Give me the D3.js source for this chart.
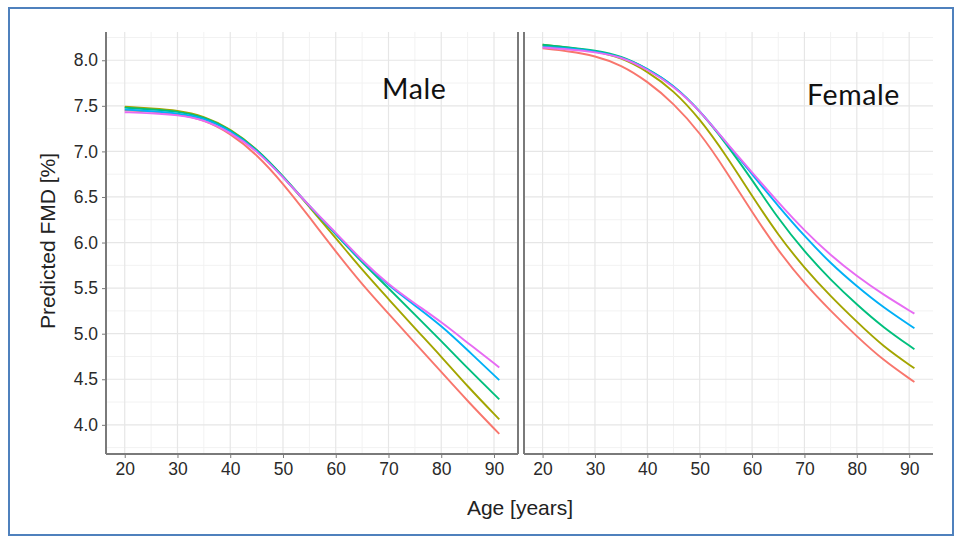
<!DOCTYPE html>
<html>
<head>
<meta charset="utf-8">
<script src="https://cdn.jsdelivr.net/npm/d3@7"></script>
<style>
  body { margin: 0; background: #fff; }
  svg { display: block; }
</style>
</head>
<body>
<svg id="chart"></svg>
<script>
var width = 960;
var height = 545;

// data
var ages = [20, 25, 30, 35, 40, 45, 50, 55, 60, 65, 70, 75, 80, 85, 91];

var male1 = [7.45, 7.44, 7.41, 7.35, 7.20, 6.97, 6.65, 6.28, 5.90, 5.54, 5.22, 4.90, 4.58, 4.26, 3.90];
var male2 = [7.49, 7.47, 7.45, 7.39, 7.25, 7.03, 6.73, 6.39, 6.05, 5.70, 5.38, 5.06, 4.75, 4.42, 4.06];
var male3 = [7.48, 7.46, 7.44, 7.38, 7.24, 7.03, 6.73, 6.40, 6.09, 5.78, 5.50, 5.21, 4.92, 4.62, 4.28];
var male4 = [7.46, 7.44, 7.42, 7.37, 7.23, 7.02, 6.72, 6.40, 6.10, 5.79, 5.53, 5.31, 5.09, 4.82, 4.49];
var male5 = [7.43, 7.42, 7.40, 7.35, 7.21, 7.01, 6.72, 6.40, 6.11, 5.80, 5.54, 5.33, 5.13, 4.90, 4.63];

var female1 = [8.13, 8.10, 8.05, 7.95, 7.77, 7.53, 7.21, 6.79, 6.33, 5.91, 5.55, 5.25, 4.97, 4.71, 4.47];
var female2 = [8.17, 8.14, 8.10, 8.03, 7.88, 7.67, 7.36, 6.96, 6.51, 6.08, 5.72, 5.41, 5.13, 4.86, 4.62];
var female3 = [8.17, 8.14, 8.11, 8.05, 7.91, 7.73, 7.45, 7.09, 6.69, 6.26, 5.90, 5.59, 5.32, 5.07, 4.83];
var female4 = [8.15, 8.13, 8.10, 8.04, 7.91, 7.73, 7.45, 7.10, 6.75, 6.40, 6.07, 5.77, 5.52, 5.29, 5.06];
var female5 = [8.14, 8.12, 8.09, 8.04, 7.90, 7.72, 7.45, 7.10, 6.77, 6.44, 6.13, 5.86, 5.63, 5.43, 5.22];

var lineColors = ["#F8766D", "#A3A500", "#00BF7D", "#00B0F6", "#E76BF3"];
var xTicks = [20, 30, 40, 50, 60, 70, 80, 90];
var xMinor = [25, 35, 45, 55, 65, 75, 85];
var yTicks = [4.0, 4.5, 5.0, 5.5, 6.0, 6.5, 7.0, 7.5, 8.0];
var yMinor = [3.75, 4.25, 4.75, 5.25, 5.75, 6.25, 6.75, 7.25, 7.75, 8.25];

var panels = [
	{ label: "Male", series: [male1, male2, male3, male4, male5], x0: 106, x1: 518, lx: 382, ly: 99, rightLine: true },
	{ label: "Female", series: [female1, female2, female3, female4, female5], x0: 524, x1: 933, lx: 807, ly: 105, rightLine: false }
];

var panelTop = 32, panelBottom = 454;
var axisColor = "#7a7a7a";

var svg = d3.select('#chart')
	.attr("width", width)
	.attr("height", height);

// outer frame
svg.append("rect")
	.attr("x", 9).attr("y", 8)
	.attr("width", 944).attr("height", 527)
	.attr("fill", "none")
	.attr("stroke", "#4f81bd")
	.attr("stroke-width", 2);

var y = d3.scaleLinear()
	.domain([3.68, 8.31])
	.range([panelBottom, panelTop]);

panels.forEach(function(p, pi) {
	var x = d3.scaleLinear()
		.domain([16.45, 94.55])
		.range([p.x0, p.x1]);

	var g = svg.append("g");

	// grid
	g.selectAll("line.ymin").data(yMinor.filter(v => y(v) > panelTop && y(v) < panelBottom)).enter().append("line")
		.attr("x1", p.x0).attr("x2", p.x1)
		.attr("y1", d => y(d)).attr("y2", d => y(d))
		.attr("stroke", "#f2f2f2").attr("stroke-width", 1);
	g.selectAll("line.xmin").data(xMinor).enter().append("line")
		.attr("x1", d => x(d)).attr("x2", d => x(d))
		.attr("y1", panelTop).attr("y2", panelBottom)
		.attr("stroke", "#f2f2f2").attr("stroke-width", 1);
	g.selectAll("line.ymaj").data(yTicks).enter().append("line")
		.attr("x1", p.x0).attr("x2", p.x1)
		.attr("y1", d => y(d)).attr("y2", d => y(d))
		.attr("stroke", "#e6e6e6").attr("stroke-width", 1.2);
	g.selectAll("line.xmaj").data(xTicks).enter().append("line")
		.attr("x1", d => x(d)).attr("x2", d => x(d))
		.attr("y1", panelTop).attr("y2", panelBottom)
		.attr("stroke", "#e6e6e6").attr("stroke-width", 1.2);

	// curves (smoothed, like the loess fits)
	var line = d3.line()
		.x((d, i) => x(ages[i]))
		.y(d => y(d))
		.curve(d3.curveBasis);

	g.selectAll("path.curve").data(p.series).enter().append("path")
		.attr("class", "curve")
		.attr("d", line)
		.attr("fill", "none")
		.attr("stroke", (d, i) => lineColors[i])
		.attr("stroke-width", 1.9);

	// x axis
	var xAxis = g.append("g")
		.attr("transform", "translate(0," + panelBottom + ")")
		.call(d3.axisBottom(x).tickValues(xTicks).tickSize(4).tickSizeOuter(0).tickPadding(5));
	xAxis.select(".domain").remove();
	xAxis.selectAll(".tick line").attr("stroke", axisColor);
	xAxis.selectAll("text")
		.attr("font-family", "Liberation Sans, Arial, sans-serif")
		.attr("font-size", 17.5)
		.attr("fill", "#2a2a2a");

	// y axis (left panel only gets labels)
	if (pi == 0) {
		var yAxis = g.append("g")
			.attr("transform", "translate(" + p.x0 + ",0)")
			.call(d3.axisLeft(y).tickValues(yTicks).tickFormat(d3.format(".1f")).tickSize(4).tickSizeOuter(0).tickPadding(4));
		yAxis.select(".domain").remove();
		yAxis.selectAll(".tick line").attr("stroke", axisColor);
		yAxis.selectAll("text")
			.attr("font-family", "Liberation Sans, Arial, sans-serif")
			.attr("font-size", 17.5)
			.attr("fill", "#2a2a2a");
	}

	// axis lines
	g.append("line")
		.attr("x1", p.x0).attr("x2", p.x0)
		.attr("y1", panelTop).attr("y2", panelBottom)
		.attr("stroke", axisColor).attr("stroke-width", 2);
	g.append("line")
		.attr("x1", p.x0).attr("x2", p.x1)
		.attr("y1", panelBottom).attr("y2", panelBottom)
		.attr("stroke", axisColor).attr("stroke-width", 2);
	if (p.rightLine) {
		g.append("line")
			.attr("x1", p.x1).attr("x2", p.x1)
			.attr("y1", panelTop).attr("y2", panelBottom)
			.attr("stroke", axisColor).attr("stroke-width", 2);
	}

	// panel label
	g.append("text")
		.attr("x", p.lx).attr("y", p.ly)
		.text(p.label)
		.attr("font-family", "Lato, Open Sans, sans-serif")
		.attr("font-size", 28.5)
		.attr("letter-spacing", 0.6)
		.attr("fill", "#111");
});

// axis titles
svg.append("text")
	.attr("transform", "translate(55,241) rotate(-90)")
	.attr("text-anchor", "middle")
	.text("Predicted FMD [%]")
	.attr("font-family", "Liberation Sans, Arial, sans-serif")
	.attr("font-size", 21)
	.attr("fill", "#222");

svg.append("text")
	.attr("x", 520).attr("y", 515)
	.attr("text-anchor", "middle")
	.text("Age [years]")
	.attr("font-family", "Liberation Sans, Arial, sans-serif")
	.attr("font-size", 21)
	.attr("fill", "#222");
</script>
</body>
</html>
